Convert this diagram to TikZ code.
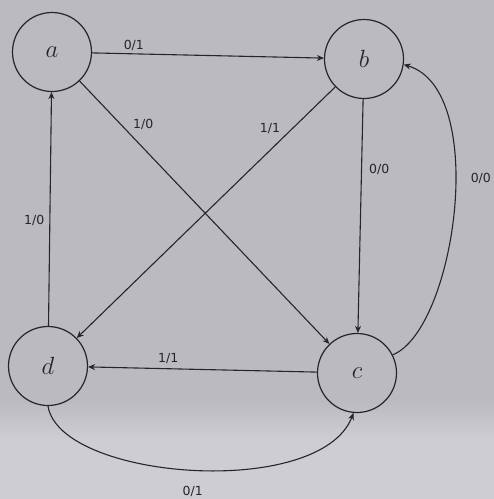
\documentclass[tikz,border=0pt]{standalone}
\usepackage{fontspec}
\newfontfamily\labelfont{DejaVu Sans}
\usetikzlibrary{arrows.meta}
\definecolor{paper}{RGB}{186,186,191}
\definecolor{paperlight}{RGB}{206,206,210}
\definecolor{ink}{RGB}{38,38,42}
\tikzset{
  state/.style={circle, draw=ink, line width=1.2pt, minimum size=79pt, inner sep=0pt,
    font=\fontsize{24}{26}\selectfont, text=ink},
  edge/.style={draw=ink, line width=1.1pt, -{Stealth[length=7pt,width=6pt]}},
  lbl/.style={font=\labelfont\fontsize{12.5}{14}\selectfont, text=ink, inner sep=3pt}
}
\begin{document}
\begin{tikzpicture}[x=1pt, y=-1pt]
  % paper background
  \fill[paper] (0,0) rectangle (494,499);
  \shade[top color=paper, bottom color=paperlight] (0,400) rectangle (494,440);
  \fill[paperlight] (0,440) rectangle (494,499);
  \useasboundingbox (0,0) rectangle (494,499);

  % states
  \node[state] (a) at (52,52) {$a$};
  \node[state] (b) at (364,59) {$b$};
  \node[state] (c) at (357,373) {$c$};
  \node[state] (d) at (48,366) {$d$};

  % transitions
  \draw[edge] (a) -- (b) node[lbl, pos=0.18, above] {0/1};
  \draw[edge] (a) -- (c) node[lbl, pos=0.2, anchor=south west] {1/0};
  \draw[edge] (b) -- (d) node[lbl, pos=0.2, anchor=south east] {1/1};
  \draw[edge] (b) -- (c) node[lbl, pos=0.3, right, xshift=4pt] {0/0};
  \draw[edge] (c.27) .. controls (455,330) and (490,90) .. (b.-8)
    node[lbl, pos=0.58, right, xshift=12pt] {0/0};
  \draw[edge] (c) -- (d) node[lbl, pos=0.65, above, yshift=2pt] {1/1};
  \draw[edge] (d) -- (a) node[lbl, pos=0.45, left, xshift=-2pt] {1/0};
  \draw[edge] (d.south) .. controls (60,480) and (320,500) .. (c.-95)
    node[lbl, pos=0.5, below, yshift=-13pt] {0/1};
\end{tikzpicture}
\end{document}
